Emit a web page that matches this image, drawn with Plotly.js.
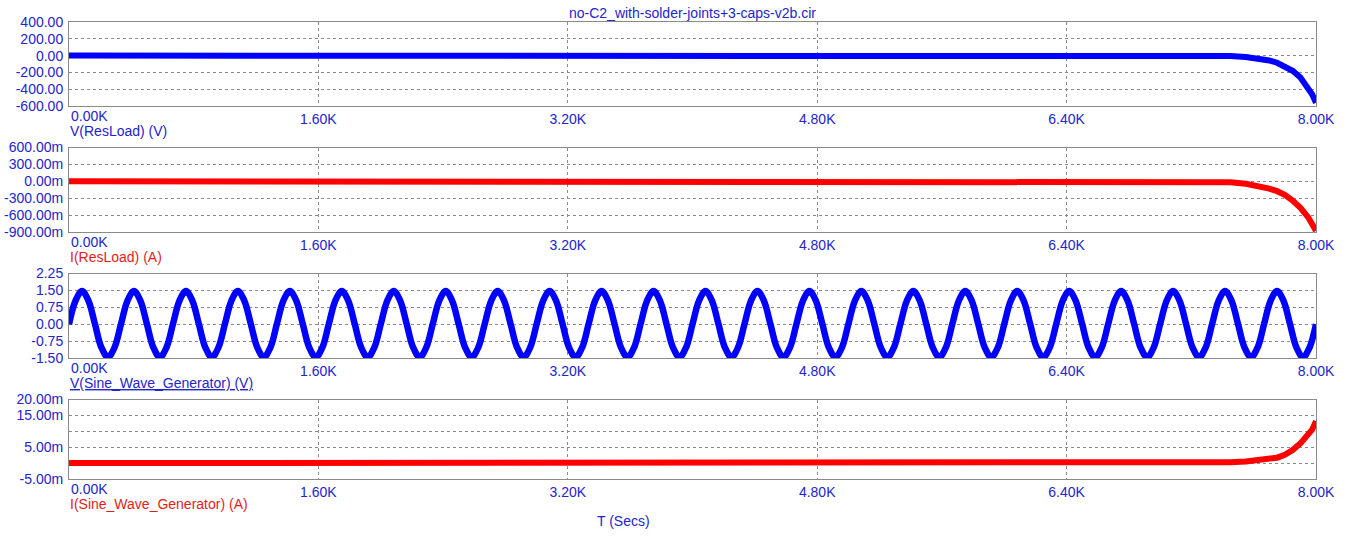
<!DOCTYPE html>
<html>
<head>
<meta charset="utf-8">
<script src="https://cdn.plot.ly/plotly-3.0.1.min.js"></script>
<style>html,body{margin:0;padding:0;background:#fff;}#chart{width:1353px;height:541px;}</style>
</head>
<body>
<div id="chart"></div>
<script>
// ---------- data ----------
const chartTitle = "no-C2_with-solder-joints+3-caps-v2b.cir";
const xAxisTitle = "T (Secs)";
const panelLabels = ["V(ResLoad) (V)", "I(ResLoad) (A)", "V(Sine_Wave_Generator) (V)", "I(Sine_Wave_Generator) (A)"];

const xTickVals = [1600, 3200, 4800, 6400, 8000];
const xTickText = ["1.60K", "3.20K", "4.80K", "6.40K", "8.00K"];
const xFirstTick = "0.00K";

// time points for the three slowly-varying traces (s)
const tailTimes = [0, 7000, 7300, 7450, 7550, 7650, 7700, 7750, 7800, 7850, 7900, 7950, 7975, 8000];
// V(ResLoad) in V
const vResLoad = [0, 0, -2, -6, -18, -40, -58, -85, -125, -180, -260, -380, -460, -560];
// I(ResLoad) in A
const iResLoad = [0, 0, -0.005, -0.018, -0.045, -0.095, -0.130, -0.175, -0.240, -0.340, -0.470, -0.640, -0.750, -0.880];
// I(Sine_Wave_Generator) in A
const iSineGen = [0, 0, 0.00008, 0.0003, 0.0005, 0.0009, 0.0012, 0.0017, 0.0026, 0.0041, 0.0062, 0.0088, 0.0105, 0.0132];

// V(Sine_Wave_Generator): 24 cycles over 8000 s, sampled every 1/8 cycle
const sineStart = 0;
const sineStep = 8000 / 192;
const vSineGen = [
 0,1.04,1.47,1.04,0,-1.04,-1.47,-1.04, 0,1.04,1.47,1.04,0,-1.04,-1.47,-1.04,
 0,1.04,1.47,1.04,0,-1.04,-1.47,-1.04, 0,1.04,1.47,1.04,0,-1.04,-1.47,-1.04,
 0,1.04,1.47,1.04,0,-1.04,-1.47,-1.04, 0,1.04,1.47,1.04,0,-1.04,-1.47,-1.04,
 0,1.04,1.47,1.04,0,-1.04,-1.47,-1.04, 0,1.04,1.47,1.04,0,-1.04,-1.47,-1.04,
 0,1.04,1.47,1.04,0,-1.04,-1.47,-1.04, 0,1.04,1.47,1.04,0,-1.04,-1.47,-1.04,
 0,1.04,1.47,1.04,0,-1.04,-1.47,-1.04, 0,1.04,1.47,1.04,0,-1.04,-1.47,-1.04,
 0,1.04,1.47,1.04,0,-1.04,-1.47,-1.04, 0,1.04,1.47,1.04,0,-1.04,-1.47,-1.04,
 0,1.04,1.47,1.04,0,-1.04,-1.47,-1.04, 0,1.04,1.47,1.04,0,-1.04,-1.47,-1.04,
 0,1.04,1.47,1.04,0,-1.04,-1.47,-1.04, 0,1.04,1.47,1.04,0,-1.04,-1.47,-1.04,
 0,1.04,1.47,1.04,0,-1.04,-1.47,-1.04, 0,1.04,1.47,1.04,0,-1.04,-1.47,-1.04,
 0,1.04,1.47,1.04,0,-1.04,-1.47,-1.04, 0,1.04,1.47,1.04,0,-1.04,-1.47,-1.04,
 0,1.04,1.47,1.04,0,-1.04,-1.47,-1.04, 0,1.04,1.47,1.04,0,-1.04,-1.47,-1.04,
 0
];

// y-axis ticks
const y1TickVals = [400, 200, 0, -200, -400, -600];
const y1TickText = ["400.00", "200.00", "0.00", "-200.00", "-400.00", "-600.00"];
const y2TickVals = [0.6, 0.3, 0, -0.3, -0.6, -0.9];
const y2TickText = ["600.00m", "300.00m", "0.00m", "-300.00m", "-600.00m", "-900.00m"];
const y3TickVals = [2.25, 1.5, 0.75, 0, -0.75, -1.5];
const y3TickText = ["2.25", "1.50", "0.75", "0.00", "-0.75", "-1.50"];
const y4TickVals = [0.020, 0.015, 0.010, 0.005, 0, -0.005];
const y4TickText = ["20.00m", "15.00m", "", "5.00m", "", "-5.00m"];

// ---------- styling ----------
const FONT = "Liberation Sans, Arial, sans-serif";
const BLUE_TXT = "#2424cc";
const RED_TXT = "#e41c1c";
const BLUE = "#0000ff";
const RED = "#ff0000";
const FRAME = "#8a8a8a";
const GRID = "#8a8a8a";

const W = 1353, H = 541;
const M = {l: 69, r: 37, t: 22, b: 62};
const plotH = H - M.t - M.b;
const py = p => (M.t + plotH - p) / plotH;   // pixel y -> paper y

// panel pixel extents (top, bottom)
const panels = [[21.5, 106], [147.5, 232], [273.5, 358], [399.5, 479]];

function xax(anchor) {
  return {
    anchor: anchor, domain: [0, 1], range: [0, 8000],
    tickmode: "array", tickvals: xTickVals, ticktext: xTickText,
    ticks: "", showgrid: true, gridcolor: GRID, griddash: "3px,3px", gridwidth: 1,
    showline: true, mirror: true, linecolor: FRAME, linewidth: 1, zeroline: false,
    tickfont: {family: FONT, size: 14, color: BLUE_TXT}, ticklabelstandoff: 0,
    fixedrange: true
  };
}
function yax(anchor, dom, range, vals, text) {
  return {
    anchor: anchor, domain: dom, range: range,
    tickmode: "array", tickvals: vals, ticktext: text,
    ticks: "", showgrid: true, gridcolor: GRID, griddash: "3px,3px", gridwidth: 1,
    showline: true, mirror: true, linecolor: FRAME, linewidth: 1, zeroline: false,
    tickfont: {family: FONT, size: 14, color: BLUE_TXT}, ticklabelstandoff: 2,
    fixedrange: true
  };
}
const dom = panels.map(p => [py(p[1]), py(p[0])]);

const traces = [
  {x: tailTimes, y: vResLoad, xaxis: "x", yaxis: "y", mode: "lines", line: {color: BLUE, width: 6}, hoverinfo: "skip"},
  {x: tailTimes, y: iResLoad, xaxis: "x2", yaxis: "y2", mode: "lines", line: {color: RED, width: 6}, hoverinfo: "skip"},
  {x0: sineStart, dx: sineStep, y: vSineGen, xaxis: "x3", yaxis: "y3", mode: "lines", line: {color: BLUE, width: 6.5, shape: "spline", smoothing: 1}, hoverinfo: "skip"},
  {x: tailTimes, y: iSineGen, xaxis: "x4", yaxis: "y4", mode: "lines", line: {color: RED, width: 6}, hoverinfo: "skip"}
];

const labelColors = [BLUE_TXT, RED_TXT, BLUE_TXT, RED_TXT];
const labelUnder = ["none", "none", "under", "none"];
const annotations = [];
panels.forEach((p, i) => {
  annotations.push({
    xref: "paper", yref: "paper", x: 0, y: py(p[1] + 10), xanchor: "left", yanchor: "middle",
    xshift: 0, text: xFirstTick, showarrow: false,
    font: {family: FONT, size: 14, color: BLUE_TXT}
  });
  annotations.push({
    xref: "paper", yref: "paper", x: 0, y: py(p[1] + 25), xanchor: "left", yanchor: "middle",
    xshift: -1, text: panelLabels[i], showarrow: false,
    font: {family: FONT, size: 14, color: labelColors[i], lineposition: labelUnder[i]}
  });
});
annotations.push({
  xref: "paper", yref: "paper", x: (623 - M.l) / (W - M.l - M.r), y: py(521), xanchor: "center", yanchor: "middle",
  text: xAxisTitle, showarrow: false, font: {family: FONT, size: 14, color: BLUE_TXT}
});

const layout = {
  width: W, height: H, margin: M,
  paper_bgcolor: "#ffffff", plot_bgcolor: "#ffffff",
  showlegend: false,
  title: {text: chartTitle, font: {family: FONT, size: 14, color: BLUE_TXT}, x: 0.5, xref: "paper", xanchor: "center", y: 1 - 13 / H, yanchor: "middle"},
  xaxis: xax("y"), xaxis2: xax("y2"), xaxis3: xax("y3"), xaxis4: xax("y4"),
  yaxis: yax("x", dom[0], [-600, 400], y1TickVals, y1TickText),
  yaxis2: yax("x2", dom[1], [-0.9, 0.6], y2TickVals, y2TickText),
  yaxis3: yax("x3", dom[2], [-1.5, 2.25], y3TickVals, y3TickText),
  yaxis4: yax("x4", dom[3], [-0.005, 0.020], y4TickVals, y4TickText),
  annotations: annotations
};

Plotly.newPlot("chart", traces, layout, {staticPlot: true, displayModeBar: false});
</script>
</body>
</html>
